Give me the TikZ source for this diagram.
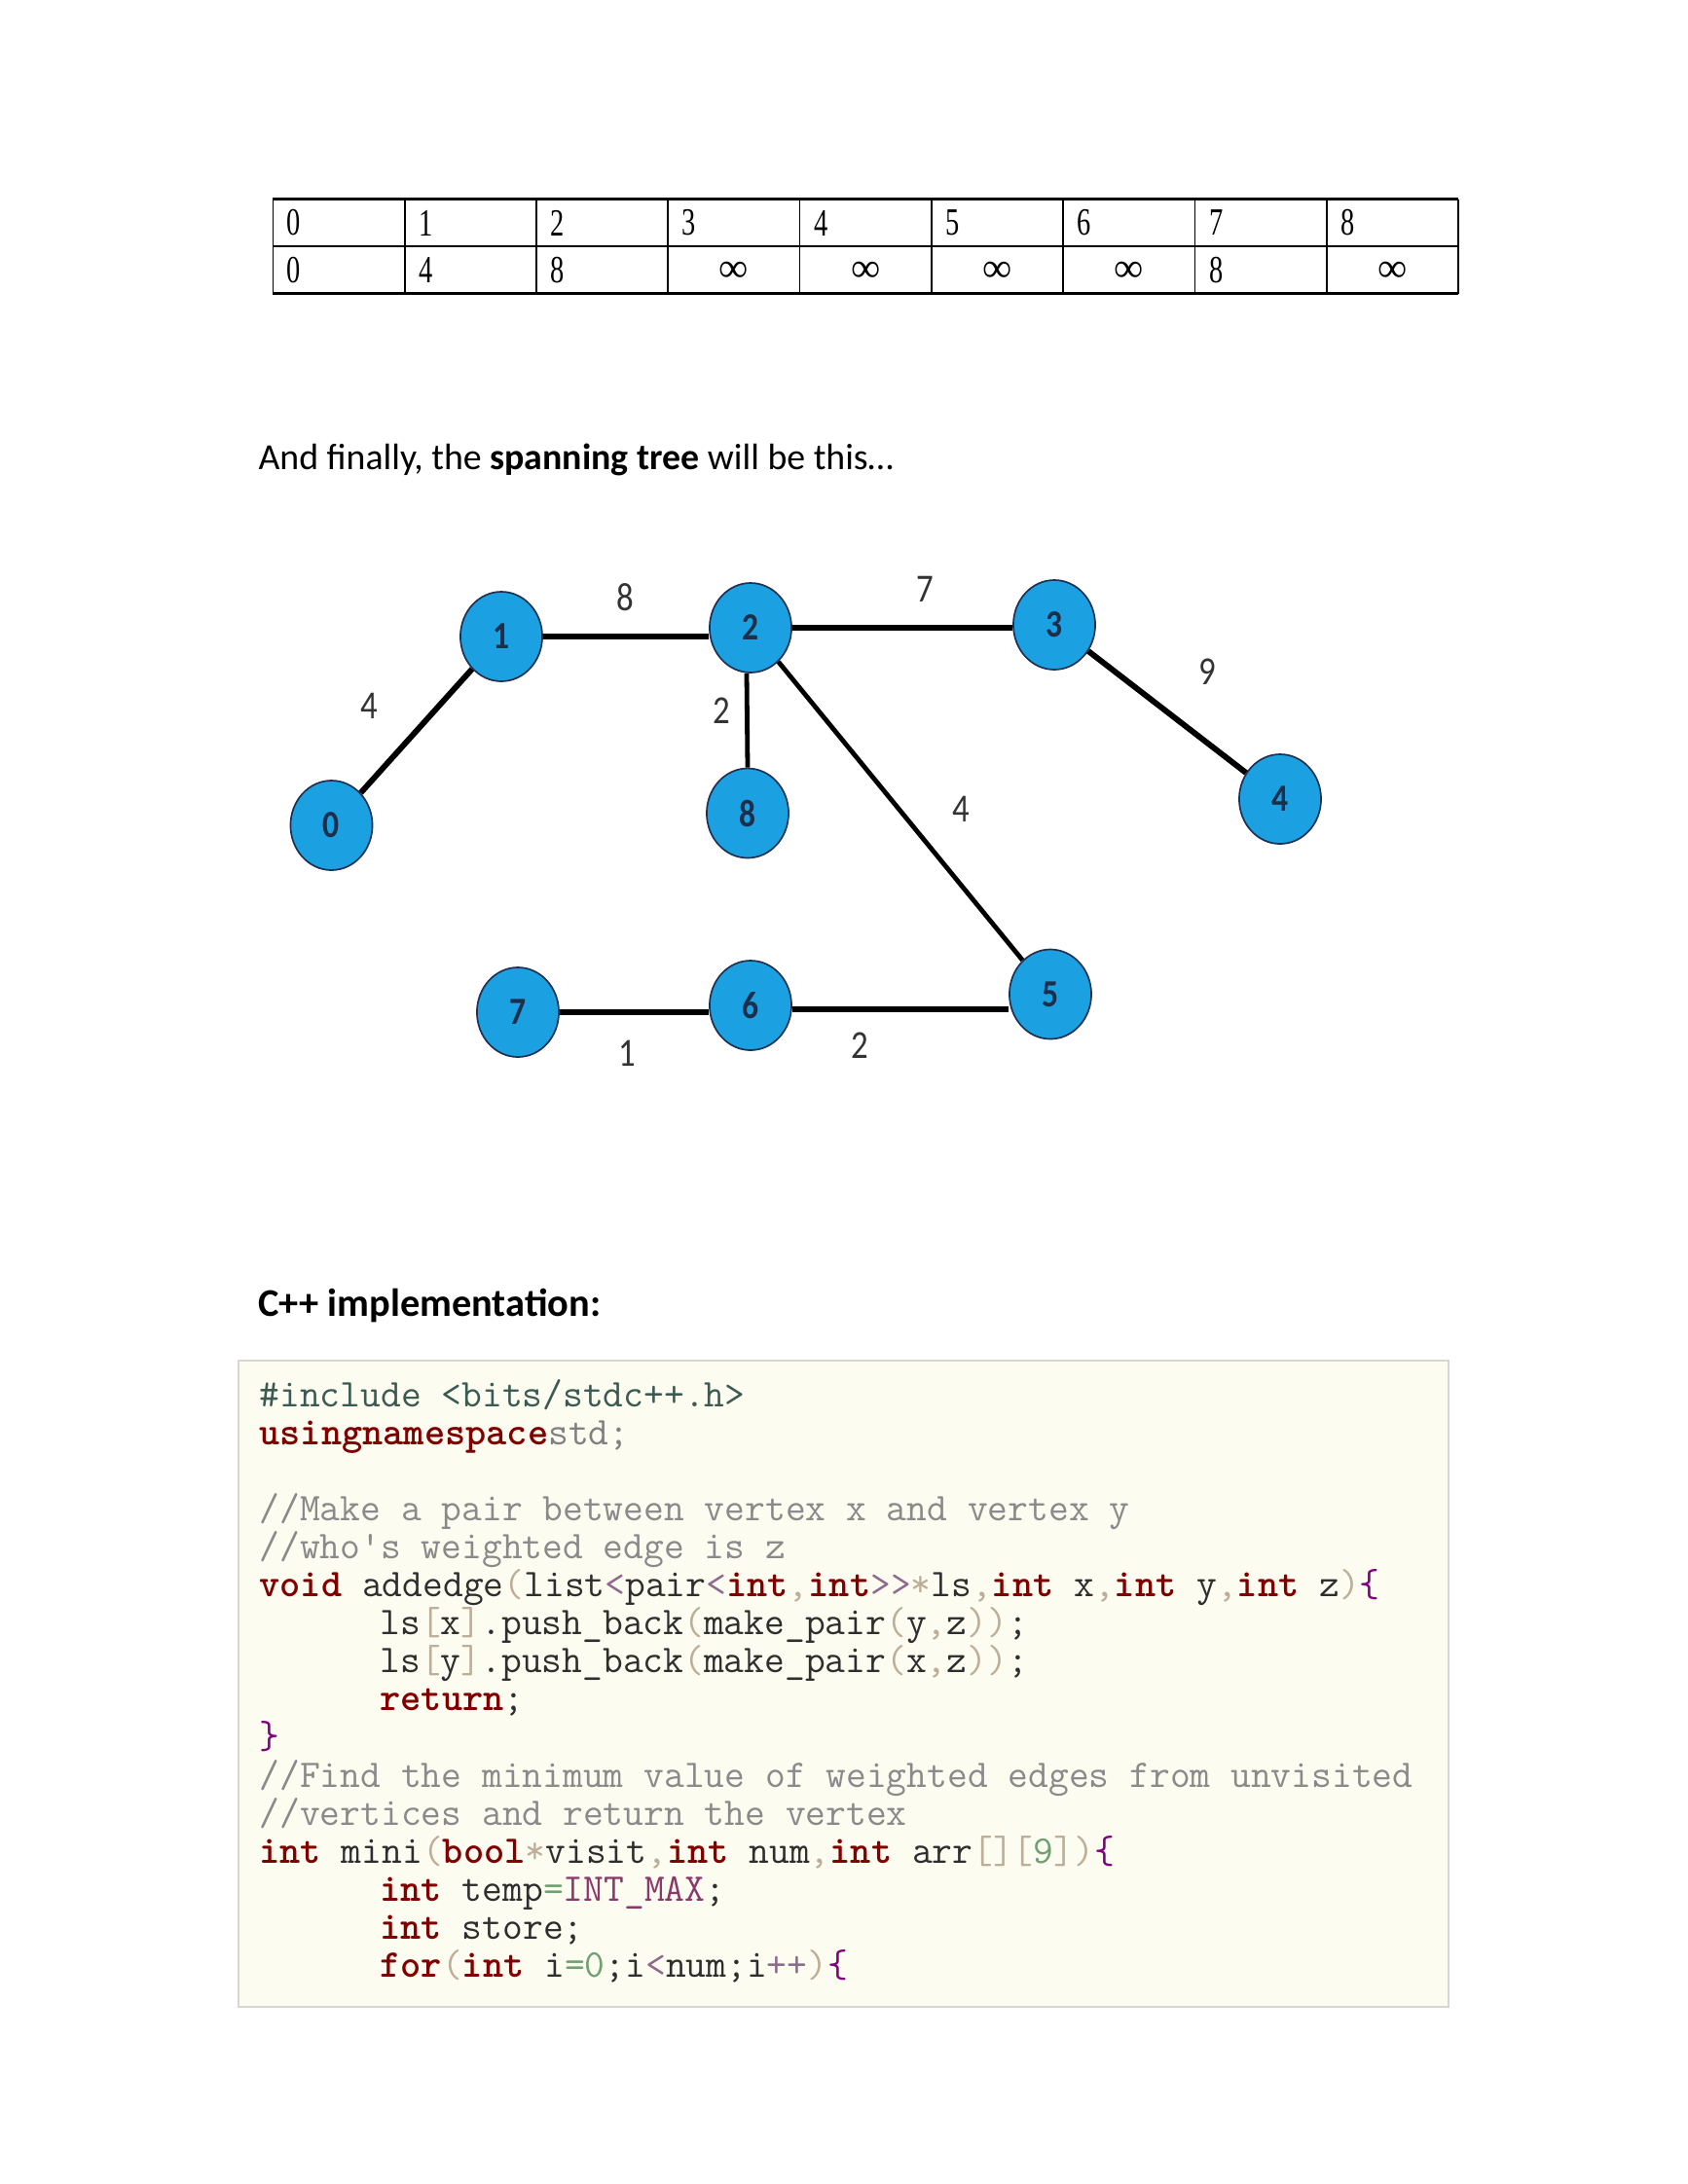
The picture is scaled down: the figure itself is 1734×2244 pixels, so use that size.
\documentclass[tikz,border=0pt]{standalone}
\usepackage{fontspec}
\setmainfont{Carlito}
\newfontfamily\tabfont[FakeStretch=0.72]{Liberation Serif}
\newfontfamily\inffont{Liberation Serif}
\newfontfamily\tallfont[FakeStretch=0.85]{Carlito}
\usetikzlibrary{shapes.geometric}
\usetikzlibrary{positioning}

\definecolor{vfill}{HTML}{1BA1E2}
\definecolor{vline}{HTML}{1F3050}
\definecolor{vtext}{HTML}{1C2E4A}
\definecolor{wtext}{HTML}{333333}
\definecolor{boxfill}{HTML}{FDFCF1}
\definecolor{boxline}{HTML}{D6D6D2}
\definecolor{kwred}{HTML}{800000}
\definecolor{plain}{HTML}{2E2E2E}
\definecolor{cmgray}{HTML}{8A8A8A}
\definecolor{ppgreen}{HTML}{3A5A52}
\definecolor{pntan}{HTML}{BDAE98}
\definecolor{oppurple}{HTML}{8E6A8E}
\definecolor{brpurple}{HTML}{800080}
\definecolor{nmgreen}{HTML}{6FA06F}
\definecolor{cnpink}{HTML}{8A3A6A}

\newcommand\kw[1]{{\bfseries\color{kwred}#1}}
\newcommand\cm[1]{{\color{cmgray}#1}}
\newcommand\pn[1]{{\color{pntan}#1}}
\newcommand\op[1]{{\color{oppurple}#1}}
\newcommand\br[1]{{\color{brpurple}#1}}
\newcommand\nm[1]{{\color{nmgreen}#1}}

\tikzset{vertex/.style = {
ellipse, draw=vline, line width=0.6pt, fill=vfill, minimum width=29.8pt, minimum height=32.6pt,
inner sep=0pt, font=\tallfont\fontsize{14}{16}\selectfont\bfseries, text=vtext
}}
\tikzset{treeline/.style = {line width=2.1pt, black}}
\tikzset{thinline/.style = {treeline, line width=1.7pt}}
\tikzset{weight/.style = {font=\tallfont\fontsize{14.5}{16}\selectfont, text=wtext, inner sep=1pt}}
\tikzset{cell/.style = {font=\tabfont\fontsize{14}{16}\selectfont, inner sep=0pt}}
\tikzset{infcell/.style = {font=\inffont\fontsize{15}{16}\selectfont, inner sep=0pt}}
\tikzset{codeline/.style = {anchor=base west, inner sep=0pt, text=plain,
font=\ttfamily\fontsize{14.3}{16}\selectfont}}

\begin{document}
\begin{tikzpicture}[x=0.35426pt,y=-0.35426pt]
\useasboundingbox (0,0) rectangle (1734,2244);

% distance table
\foreach \i in {0,...,9} \draw[line width=0.6pt] (280.4+\i*135.3,204.6) -- (280.4+\i*135.3,301.9);
\draw[line width=0.6pt] (280.4,253.2) -- (1498.1,253.2);
\draw[line width=1.1pt] (280.4,204.6) -- (1498.1,204.6);
\draw[line width=1.1pt] (280.4,301.9) -- (1498.1,301.9);
\foreach \i in {0,...,8} \node[cell,anchor=west] (h\i) at (294.4+\i*135.3,229) {\i};
\foreach \i/\v in {0/0,1/4,2/8,7/8} \node[cell,anchor=west] (v\i) at (294.4+\i*135.3,277.5) {\v};
\foreach \i in {3,4,5,6,8} \node[infcell] (v\i) at (348+\i*135.3,279) {∞};

\node[anchor=base west, inner sep=0pt, font=\fontsize{13.4}{15}\selectfont] (intro) at (265,482)
{And finally, the \textbf{spanning tree} will be this…};

% spanning tree
\node[vertex] (n0) at (340.5,848) {0};
\node[vertex] (n1) at (515,654) {1};
\node[vertex] (n2) at (771,645) {2};
\node[vertex] (n3) at (1083,642) {3};
\node[vertex] (n4) at (1315,821) {4};
\node[vertex] (n8) at (768,835.5) {8};
\node[vertex] (n7) at (532,1040) {7};
\node[vertex] (n6) at (771,1033) {6};
\node[vertex] (n5) at (1079,1021.5) {5};

\draw[treeline] (n0) -- (n1);
\draw[treeline] (n1.east) -- (n1.east -| n2.west);
\draw[treeline] (n2.east) -- (n2.east -| n3.west);
\draw[treeline] (n3) -- (n4);
\draw[thinline] (n2.south) ++(-4,0) -- (n8.north);
\draw[thinline] (n2) -- (n5);
\draw[treeline] (n7.east) -- (n7.east -| n6.west);
\draw[treeline] (n6.east) ++(0,4) -- (n5.west |- 0,1037);

\node[weight] (w01) at (379,725) {4};
\node[weight] (w12) at (642,614) {8};
\node[weight] (w23) at (950,605) {7};
\node[weight] (w34) at (1240,690) {9};
\node[weight] (w28) at (741,730) {2};
\node[weight] (w25) at (987,831) {4};
\node[weight] (w76) at (644,1082) {1};
\node[weight] (w65) at (883,1074) {2};

\node[anchor=base west, inner sep=0pt, font=\fontsize{14.3}{16}\selectfont\bfseries] (impl) at (265,1352)
{C++ implementation:};

% code listing
\draw[boxline, fill=boxfill, line width=0.8pt] (245,1398) rectangle (1488,2062);
\node[codeline] (c0) at (266,1445) {{\color{ppgreen}\#include <bits/stdc++.h>}};
\node[codeline] (c1) at (266,1484.1) {\kw{usingnamespace}{\color{gray}std;}};
\node[codeline] (c3) at (266,1562.3) {\cm{//Make a pair between vertex x and vertex y}};
\node[codeline] (c4) at (266,1601.4) {\cm{//who's weighted edge is z}};
\node[codeline] (c5) at (266,1640.5) {\kw{void} addedge\pn{(}list\op{<}pair\op{<}\kw{int}\pn{,}\kw{int}\op{>}\op{>}\pn{*}ls\pn{,}\kw{int} x\pn{,}\kw{int} y\pn{,}\kw{int} z\pn{)}\br{\{}};
\node[codeline] (c6) at (390,1679.6) {ls\pn{[}x\pn{]}.push\_back\pn{(}make\_pair\pn{(}y\pn{,}z\pn{))};};
\node[codeline] (c7) at (390,1718.7) {ls\pn{[}y\pn{]}.push\_back\pn{(}make\_pair\pn{(}x\pn{,}z\pn{))};};
\node[codeline] (c8) at (390,1757.8) {\kw{return};};
\node[codeline] (c9) at (266,1796.9) {\br{\}}};
\node[codeline] (c10) at (266,1836) {\cm{//Find the minimum value of weighted edges from unvisited}};
\node[codeline] (c11) at (266,1875.1) {\cm{//vertices and return the vertex}};
\node[codeline] (c12) at (266,1914.2) {\kw{int} mini\pn{(}\kw{bool}\pn{*}visit\pn{,}\kw{int} num\pn{,}\kw{int} arr\pn{[][}\nm{9}\pn{])}\br{\{}};
\node[codeline] (c13) at (390,1953.3) {\kw{int} temp\nm{=}{\color{cnpink}INT\_MAX};};
\node[codeline] (c14) at (390,1992.4) {\kw{int} store;};
\node[codeline] (c15) at (390,2031.5) {\kw{for}\pn{(}\kw{int} i\nm{=0};i\op{<}num;i\op{++}\pn{)}\br{\{}};

\end{tikzpicture}
\end{document}
